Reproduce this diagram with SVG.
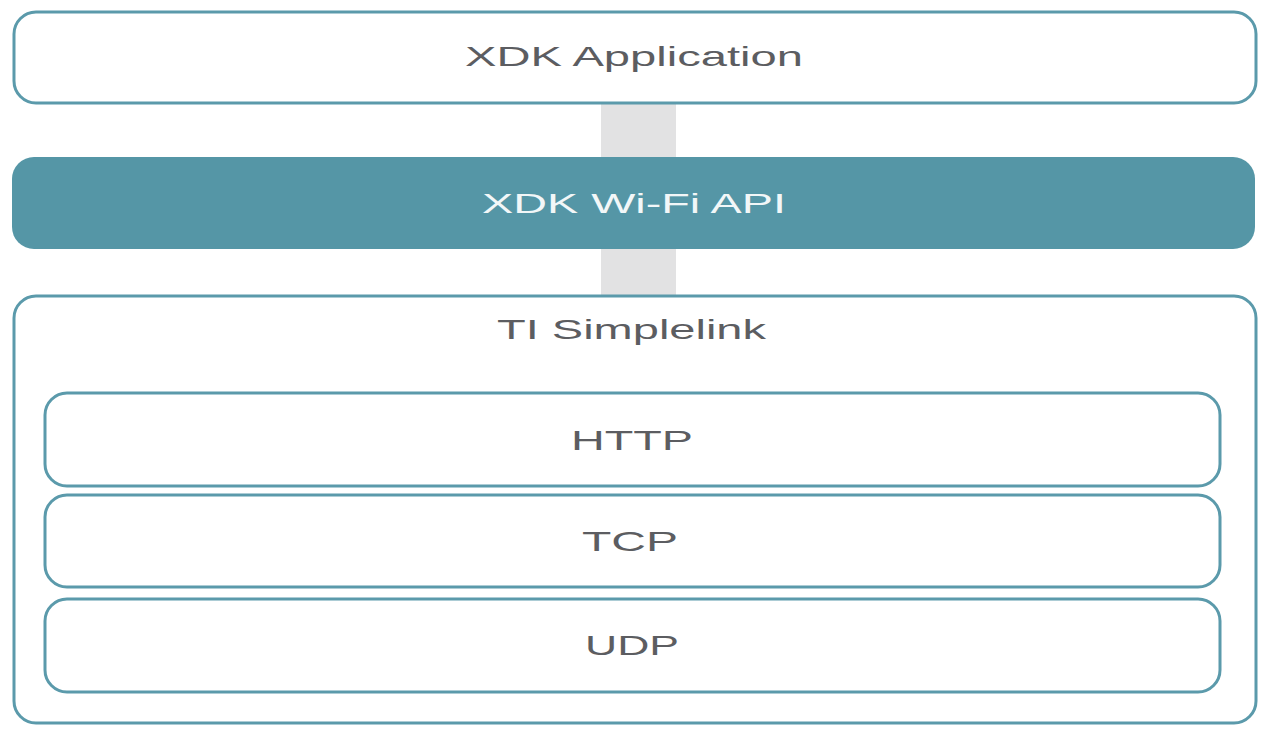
<svg xmlns="http://www.w3.org/2000/svg" width="1270" height="740" viewBox="0 0 1270 740">
<style>
.box{fill:#ffffff;stroke:#5b9aab;stroke-width:3}
.api{fill:#5596a6;stroke:none}
.lbl{font-family:"Liberation Sans",Arial,sans-serif;font-size:28px;fill:#5c5d61}
.wl{fill:#f2f7f8}
.bar{fill:#e2e2e3}
</style>
<rect width="1270" height="740" fill="#ffffff"/>
<g id="connectors">
<rect class="bar" x="601" y="104" width="75" height="54"/>
<rect class="bar" x="601" y="248" width="75" height="49"/>
</g>
<g id="xdk-application">
<rect class="box" x="14" y="12" width="1242" height="91" rx="22"/>
<text class="lbl" x="465" y="66" textLength="338" lengthAdjust="spacingAndGlyphs">XDK Application</text>
</g>
<g id="xdk-wifi-api">
<rect class="api" x="12" y="157" width="1243" height="92" rx="22"/>
<text class="lbl wl" x="482" y="213" textLength="304" lengthAdjust="spacingAndGlyphs">XDK Wi-Fi API</text>
</g>
<g id="ti-simplelink">
<rect class="box" x="14" y="296" width="1242" height="427" rx="22"/>
<text class="lbl" x="497" y="339" textLength="269" lengthAdjust="spacingAndGlyphs">TI Simplelink</text>
</g>
<g id="http">
<rect class="box" x="45" y="393" width="1175" height="93" rx="22"/>
<text class="lbl" x="571" y="450" textLength="122" lengthAdjust="spacingAndGlyphs">HTTP</text>
</g>
<g id="tcp">
<rect class="box" x="45" y="495" width="1175" height="92" rx="22"/>
<text class="lbl" x="582" y="551" textLength="96" lengthAdjust="spacingAndGlyphs">TCP</text>
</g>
<g id="udp">
<rect class="box" x="45" y="599" width="1175" height="93" rx="22"/>
<text class="lbl" x="585" y="655" textLength="94" lengthAdjust="spacingAndGlyphs">UDP</text>
</g>
</svg>
